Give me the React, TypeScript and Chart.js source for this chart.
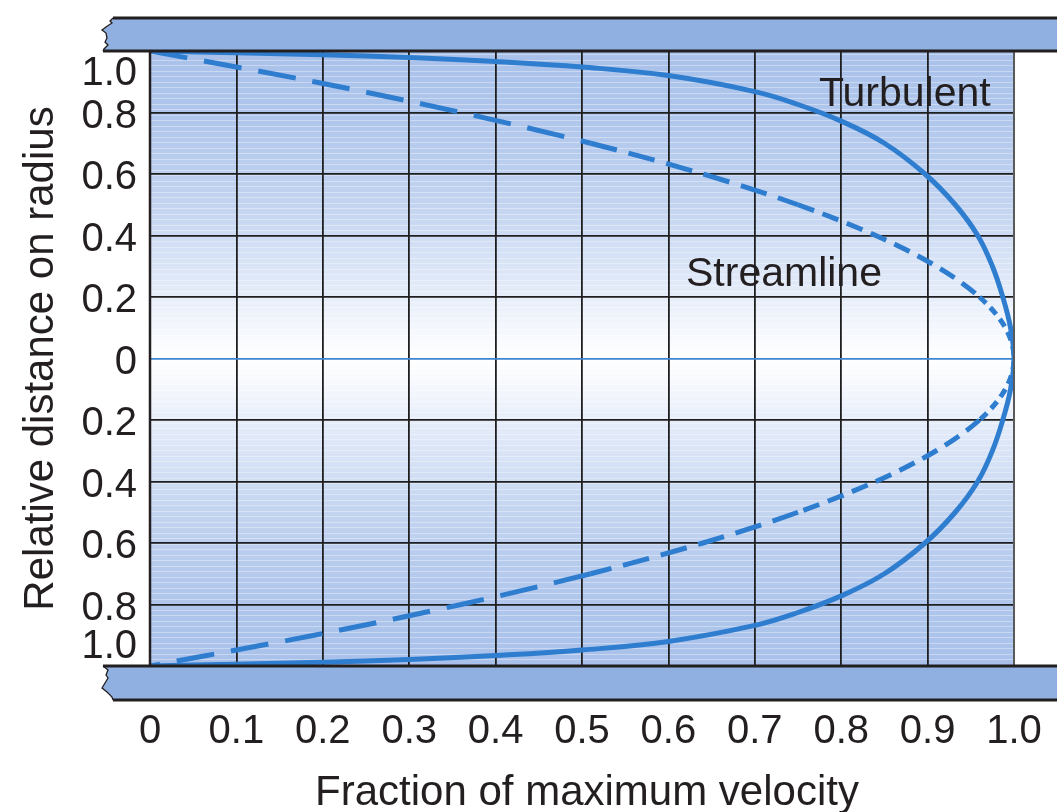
import React, { useEffect, useRef } from "react";
import { Chart, registerables } from "chart.js";

Chart.register(...registerables);

const W = 1057;
const H = 812;

// Axis ticks
const xTickValues = [0, 0.1, 0.2, 0.3, 0.4, 0.5, 0.6, 0.7, 0.8, 0.9, 1.0];
const xTickLabels = ["0", "0.1", "0.2", "0.3", "0.4", "0.5", "0.6", "0.7", "0.8", "0.9", "1.0"];
const yTickValues = [1, 0.8, 0.6, 0.4, 0.2, 0, -0.2, -0.4, -0.6, -0.8, -1];
const yTickLabels = ["1.0", "0.8", "0.6", "0.4", "0.2", "0", "0.2", "0.4", "0.6", "0.8", "1.0"];

// Streamline (laminar) profile: relative radius vs fraction of max velocity
const streamY = [1.0, 0.9, 0.8, 0.7, 0.6, 0.5, 0.4, 0.3, 0.2, 0.1, 0, -0.1, -0.2, -0.3, -0.4, -0.5, -0.6, -0.7, -0.8, -0.9, -1.0];
const streamX = [0, 0.19, 0.36, 0.51, 0.64, 0.75, 0.84, 0.91, 0.96, 0.99, 1.0, 0.99, 0.96, 0.91, 0.84, 0.75, 0.64, 0.51, 0.36, 0.19, 0];

// Turbulent profile
const turbY = [
  1.0, 0.994, 0.988, 0.979, 0.966, 0.948, 0.92, 0.868, 0.826, 0.772, 0.7, 0.6, 0.5, 0.4, 0.3, 0.2, 0.1,
  0,
  -0.1, -0.2, -0.3, -0.4, -0.5, -0.6, -0.7, -0.772, -0.826, -0.868, -0.92, -0.948, -0.966, -0.979, -0.988, -0.994, -1.0,
];
const turbX = [
  0, 0.1, 0.2, 0.3, 0.4, 0.5, 0.6, 0.7, 0.75, 0.8, 0.85, 0.897, 0.932, 0.958, 0.975, 0.987, 0.996,
  1.0,
  0.996, 0.987, 0.975, 0.958, 0.932, 0.897, 0.85, 0.8, 0.75, 0.7, 0.6, 0.5, 0.4, 0.3, 0.2, 0.1, 0,
];

const xTitle = "Fraction of maximum velocity";
const yTitle = "Relative distance on radius";
const turbLabel = "Turbulent";
const streamLabel = "Streamline";

const BLUE = "#2f7dcf";
const PIPE = "#8fb0e0";
const INK = "#231f20";
const FONT = "'Liberation Sans', Arial, Helvetica, sans-serif";

function dashFor(ctx: any): number[] {
  const a = streamY[ctx.p0DataIndex];
  const b = streamY[ctx.p1DataIndex];
  const m = Math.abs((a + b) / 2);
  if (m > 0.72) return [38, 17];
  if (m > 0.45) return [27, 12];
  if (m > 0.22) return [17, 9];
  return [9, 6];
}

const backgroundPlugin = {
  id: "pipeBackground",
  beforeDraw(chart: any) {
    const { ctx, chartArea: a } = chart;
    ctx.save();
    ctx.fillStyle = "#ffffff";
    ctx.fillRect(0, 0, chart.width, chart.height);
    const g = ctx.createLinearGradient(0, a.top, 0, a.bottom);
    g.addColorStop(0, "#a9c1ea");
    g.addColorStop(0.12, "#b1c7ec");
    g.addColorStop(0.25, "#c3d4f0");
    g.addColorStop(0.36, "#dce6f7");
    g.addColorStop(0.44, "#f1f5fc");
    g.addColorStop(0.5, "#ffffff");
    g.addColorStop(0.56, "#f1f5fc");
    g.addColorStop(0.64, "#dce6f7");
    g.addColorStop(0.75, "#c3d4f0");
    g.addColorStop(0.88, "#b1c7ec");
    g.addColorStop(1, "#a9c1ea");
    ctx.fillStyle = g;
    ctx.fillRect(a.left, a.top, a.right - a.left, a.bottom - a.top);
    ctx.fillStyle = "rgba(255,255,255,0.35)";
    for (let y = a.top + 3; y < a.bottom; y += 5.5) {
      ctx.fillRect(a.left, Math.round(y), a.right - a.left, 1);
    }
    ctx.restore();
  },
};

function drawPipe(ctx: any, yTop: number, yBot: number, xEnd: number, wave: number[][], topStartX: number, botStartX: number) {
  ctx.save();
  ctx.beginPath();
  ctx.moveTo(wave[0][0], wave[0][1]);
  for (let i = 1; i < wave.length; i++) ctx.lineTo(wave[i][0], wave[i][1]);
  ctx.lineTo(xEnd, yBot);
  ctx.lineTo(xEnd, yTop);
  ctx.closePath();
  ctx.fillStyle = PIPE;
  ctx.fill();
  ctx.beginPath();
  ctx.moveTo(wave[0][0], wave[0][1]);
  for (let i = 1; i < wave.length; i++) ctx.lineTo(wave[i][0], wave[i][1]);
  ctx.strokeStyle = INK;
  ctx.lineWidth = 1.3;
  ctx.stroke();
  ctx.lineWidth = 3;
  ctx.beginPath();
  ctx.moveTo(topStartX, yTop);
  ctx.lineTo(xEnd, yTop);
  ctx.moveTo(botStartX, yBot);
  ctx.lineTo(xEnd, yBot);
  ctx.stroke();
  ctx.restore();
}

const overlayPlugin = {
  id: "pipeOverlay",
  afterDraw(chart: any) {
    const { ctx, chartArea: a } = chart;
    const xs = chart.scales.x;
    const ys = chart.scales.y;
    const th = 33;
    ctx.save();
    ctx.strokeStyle = INK;
    ctx.lineWidth = 2.5;
    ctx.beginPath();
    ctx.moveTo(a.left, a.top);
    ctx.lineTo(a.left, a.bottom);
    ctx.stroke();
    ctx.strokeStyle = "#5a5a5a";
    ctx.lineWidth = 2;
    ctx.beginPath();
    ctx.moveTo(a.right, a.top);
    ctx.lineTo(a.right, a.bottom);
    ctx.stroke();
    ctx.restore();

    const t0 = a.top - th;
    drawPipe(
      ctx,
      t0,
      a.top,
      chart.width + 5,
      [
        [113, t0], [110, t0 + 3], [112, t0 + 5], [106, t0 + 9], [102, t0 + 12], [106, t0 + 15],
        [107, t0 + 20], [105, t0 + 24], [108, t0 + 27], [104, t0 + 31], [103, a.top],
      ],
      113,
      103
    );
    const b1 = a.bottom + 34;
    drawPipe(
      ctx,
      a.bottom,
      b1,
      chart.width + 5,
      [
        [103, a.bottom], [108, a.bottom + 4], [106, a.bottom + 9], [108, a.bottom + 12], [105, a.bottom + 17],
        [102, a.bottom + 22], [107, a.bottom + 26], [112, a.bottom + 31], [113, b1],
      ],
      103,
      113
    );

    ctx.save();
    ctx.fillStyle = INK;
    ctx.font = `40px ${FONT}`;
    ctx.textAlign = "right";
    ctx.textBaseline = "middle";
    yTickValues.forEach((v, i) => {
      let py = ys.getPixelForValue(v) + 4;
      if (v === 1) py = a.top + 23;
      if (v === -1) py = a.bottom - 19;
      ctx.fillText(yTickLabels[i], 137, py);
    });
    ctx.textAlign = "center";
    xTickValues.forEach((v, i) => {
      ctx.fillText(xTickLabels[i], xs.getPixelForValue(v), 732);
    });
    ctx.font = `42px ${FONT}`;
    ctx.textBaseline = "alphabetic";
    ctx.fillText(xTitle, (a.left + a.right) / 2 + 5, 805);
    ctx.save();
    ctx.translate(53, (a.top + a.bottom) / 2);
    ctx.rotate(-Math.PI / 2);
    ctx.textAlign = "center";
    ctx.fillText(yTitle, 0, 0);
    ctx.restore();
    ctx.font = `41px ${FONT}`;
    ctx.textAlign = "left";
    ctx.fillText(turbLabel, 819, 106);
    ctx.fillText(streamLabel, 686, 286);
    ctx.restore();
  },
};

export default function App() {
  const ref = useRef<HTMLCanvasElement>(null);
  useEffect(() => {
    const canvas = ref.current;
    if (!canvas) return;
    const chart = new Chart(canvas, {
      type: "line",
      data: {
        datasets: [
          {
            label: "Streamline",
            data: streamY.map((y, i) => ({ x: streamX[i], y })),
            borderColor: BLUE,
            borderWidth: 5,
            pointRadius: 0,
            fill: false,
            cubicInterpolationMode: "monotone",
            borderCapStyle: "butt",
            segment: { borderDash: dashFor },
          } as any,
          {
            label: "Turbulent",
            data: turbY.map((y, i) => ({ x: turbX[i], y })),
            borderColor: BLUE,
            borderWidth: 5,
            pointRadius: 0,
            fill: false,
            tension: 0.4,
            cubicInterpolationMode: "default",
          } as any,
        ],
      },
      options: {
        indexAxis: "y",
        responsive: false,
        animation: false,
        devicePixelRatio: 1,
        events: [],
        layout: { padding: { left: 150, top: 51, right: 43, bottom: 146 } },
        plugins: { legend: { display: false }, tooltip: { enabled: false } },
        scales: {
          x: {
            type: "linear",
            min: 0,
            max: 1,
            ticks: { display: false, stepSize: 0.1 },
            grid: {
              drawTicks: false,
              color: (c: any) => (Math.abs(c.tick.value - 1) < 1e-6 ? "rgba(0,0,0,0)" : "#1f1f1f"),
              lineWidth: 1.8,
            },
            border: { display: false },
          },
          y: {
            type: "linear",
            min: -1,
            max: 1,
            ticks: { display: false, stepSize: 0.2 },
            grid: {
              drawTicks: false,
              color: (c: any) =>
                Math.abs(c.tick.value) < 1e-6
                  ? "#3d85d3"
                  : Math.abs(Math.abs(c.tick.value) - 1) < 1e-6
                  ? "rgba(0,0,0,0)"
                  : "#1f1f1f",
              lineWidth: 1.8,
            },
            border: { display: false },
          },
        },
      } as any,
      plugins: [backgroundPlugin, overlayPlugin],
    });
    return () => chart.destroy();
  }, []);
  return (
    <div style={{ position: "absolute", left: 0, top: 0, width: W, height: H }}>
      <canvas ref={ref} width={W} height={H} style={{ display: "block", width: W, height: H }} />
    </div>
  );
}
